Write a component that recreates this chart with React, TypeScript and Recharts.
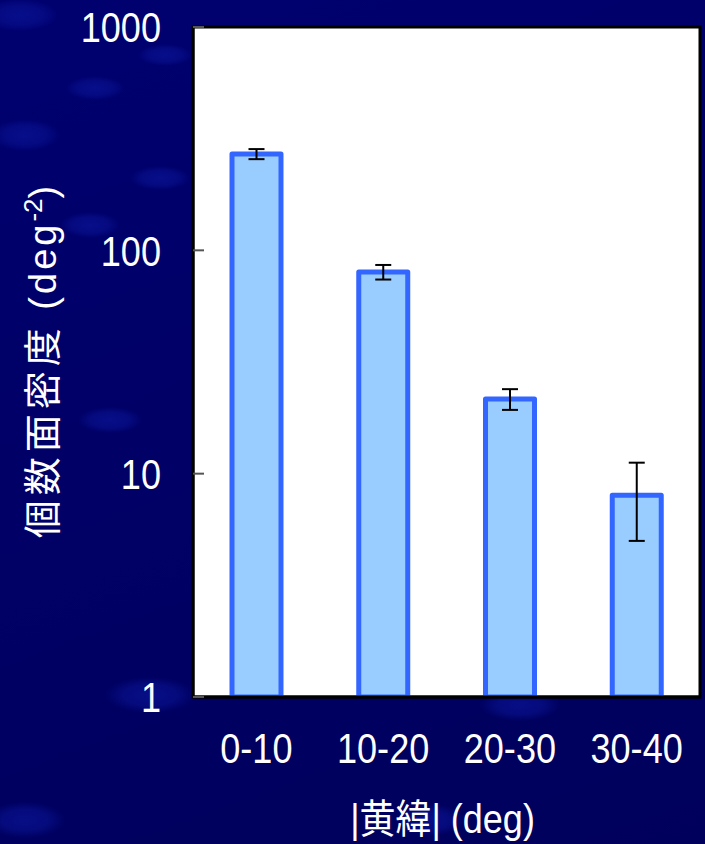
import { BarChart, Bar, XAxis, YAxis, ErrorBar, CartesianGrid, ReferenceArea } from "recharts";

// surface density per |ecliptic latitude| bin, log scale
const categories = ["0-10", "10-20", "20-30", "30-40"];
const density = [270, 80, 21.6, 8];
const errLow = [14, 6, 2.3, 3];
const errHigh = [14, 6, 2.3, 3.2];
const yTicks = [1, 10, 100, 1000];

const data = categories.map((name, i) => ({
  name,
  value: density[i],
  err: [errLow[i], errHigh[i]],
}));

const LATIN = '"Liberation Sans", Arial, sans-serif';
const CJK = '"Noto Sans CJK JP", "Noto Sans CJK SC", sans-serif';
const BG = "#00006b";

// faint slide-template blobs behind the chart
const blob = (x: number, y: number, w: number, h: number) =>
  `radial-gradient(ellipse ${w}px ${h}px at ${x}px ${y}px, rgba(10,20,150,0.7) 0%, rgba(10,20,150,0.5) 60%, rgba(10,20,150,0) 100%)`;
const BG_IMAGE = [
  blob(20, 15, 38, 16),
  blob(95, 88, 30, 12),
  blob(25, 135, 35, 16),
  blob(160, 178, 30, 12),
  blob(165, 55, 28, 11),
  blob(90, 225, 30, 13),
  blob(110, 420, 32, 13),
  blob(150, 695, 45, 18),
  blob(25, 820, 40, 18),
  blob(520, 705, 40, 16),
  blob(430, 820, 35, 16),
  `linear-gradient(160deg, #000070 0%, #00005c 100%)`,
].join(",");

function YTick({ x, y, payload }: any) {
  return (
    <g>
      <line x1={x + 32} x2={x + 43} y1={y} y2={y} stroke="#555" strokeWidth={2} />
      <text
        transform={`translate(${x},${y}) scale(0.84,1)`}
        textAnchor="end"
        dy="0.36em"
        fill="#fff"
        fontSize={43}
        fontFamily={LATIN}
      >
        {payload.value}
      </text>
    </g>
  );
}

function XTick({ x, y, payload }: any) {
  return (
    <text
      transform={`translate(${x},${y}) scale(0.84,1)`}
      textAnchor="middle"
      dy="0.72em"
      fill="#fff"
      fontSize={43}
      fontFamily={LATIN}
    >
      {payload.value}
    </text>
  );
}

function XLabel({ viewBox }: any) {
  const cx = viewBox.x + viewBox.width / 2 - 4;
  return (
    <text
      transform={`translate(${cx},${viewBox.y + 136}) scale(0.9,1)`}
      textAnchor="middle"
      fill="#fff"
      fontSize={40}
      fontFamily={LATIN}
    >
      |<tspan fontFamily={CJK}>黄緯</tspan>| (deg)
    </text>
  );
}

function YLabel({ viewBox }: any) {
  const cy = viewBox.y + viewBox.height / 2;
  return (
    <text
      transform={`translate(42,${cy}) rotate(-90)`}
      textAnchor="middle"
      dy="0.36em"
      fill="#fff"
      fontSize={38}
      fontFamily={LATIN}
    >
      <tspan fontFamily={CJK} letterSpacing={5}>個数面密度</tspan>
      <tspan letterSpacing={3}>{" (deg"}</tspan>
      <tspan dy={-14} fontSize={26}>-2</tspan>
      <tspan dy={14}>)</tspan>
    </text>
  );
}

export default function App() {
  return (
    <div style={{ width: 705, height: 844, backgroundColor: BG, backgroundImage: BG_IMAGE }}>
      <style>{`body{margin:0;background:${BG}}`}</style>
      <BarChart
        width={705}
        height={844}
        data={data}
        margin={{ top: 27, right: 5, bottom: 0, left: 0 }}
      >
        <CartesianGrid fill="#fff" horizontal={false} vertical={false} />
        <XAxis
          dataKey="name"
          height={147}
          tickSize={0}
          tickMargin={35}
          tick={<XTick />}
          axisLine={{ stroke: "#000", strokeWidth: 3 }}
          label={<XLabel />}
        />
        <YAxis
          scale="log"
          domain={[1, 1000]}
          ticks={yTicks}
          width={193}
          tickSize={0}
          tickMargin={32}
          tick={<YTick />}
          axisLine={{ stroke: "#000", strokeWidth: 3 }}
          allowDataOverflow
          label={<YLabel />}
        />
        <ReferenceArea
          y1={1}
          y2={1000}
          fill="none"
          stroke="#000"
          strokeWidth={3}
          ifOverflow="visible"
        />
        <Bar
          dataKey="value"
          fill="#99ccff"
          stroke="#3366ff"
          strokeWidth={5}
          strokeLinejoin="round"
          barSize={49}
          isAnimationActive={false}
        >
          <ErrorBar dataKey="err" direction="y" width={8} stroke="#000" strokeWidth={2} />
        </Bar>
      </BarChart>
    </div>
  );
}
